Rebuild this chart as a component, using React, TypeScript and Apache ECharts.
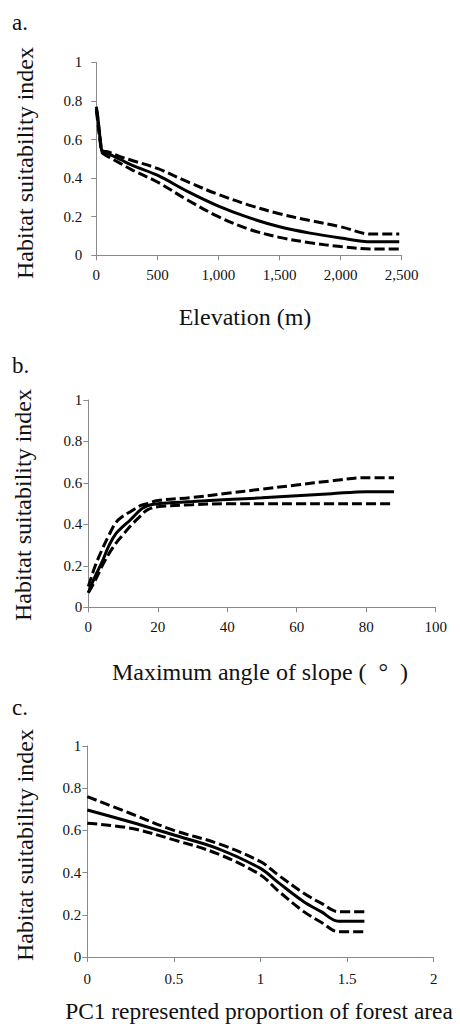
import React, { useEffect, useRef } from "react";
import * as echarts from "echarts";

// Panel a: Elevation (m)
const elevX = [0, 10, 25, 45, 60, 100, 200, 300, 500, 750, 1000, 1250, 1500, 1750, 2000, 2250, 2480];
const elevUpper = [0.76, 0.72, 0.64, 0.545, 0.54, 0.535, 0.51, 0.49, 0.45, 0.38, 0.315, 0.26, 0.215, 0.18, 0.148, 0.11, 0.11];
const elevMean = [0.77, 0.73, 0.64, 0.54, 0.535, 0.525, 0.495, 0.465, 0.415, 0.33, 0.255, 0.195, 0.148, 0.115, 0.09, 0.07, 0.07];
const elevLower = [0.75, 0.7, 0.62, 0.535, 0.525, 0.51, 0.475, 0.44, 0.38, 0.285, 0.2, 0.135, 0.093, 0.065, 0.045, 0.033, 0.033];

// Panel b: Maximum angle of slope
const slopeX = [0, 2, 4, 6, 8, 10, 12, 15, 17, 20, 30, 40, 50, 60, 70, 80, 88];
const slopeUpper = [0.1, 0.2, 0.28, 0.35, 0.41, 0.44, 0.46, 0.49, 0.5, 0.515, 0.53, 0.55, 0.57, 0.59, 0.61, 0.625, 0.625];
const slopeMean = [0.07, 0.15, 0.22, 0.3, 0.357, 0.39, 0.42, 0.47, 0.49, 0.5, 0.51, 0.52, 0.528, 0.538, 0.548, 0.558, 0.558];
const slopeLower = [0.07, 0.13, 0.2, 0.26, 0.31, 0.35, 0.39, 0.44, 0.47, 0.485, 0.495, 0.5, 0.5, 0.5, 0.5, 0.5, 0.5];

// Panel c: PC1 represented proportion of forest area
const pcX = [0, 0.25, 0.5, 0.75, 1, 1.1, 1.25, 1.35, 1.45, 1.6];
const pcUpper = [0.76, 0.68, 0.6, 0.539, 0.452, 0.39, 0.302, 0.255, 0.215, 0.215];
const pcMean = [0.697, 0.64, 0.578, 0.515, 0.42, 0.355, 0.262, 0.215, 0.17, 0.17];
const pcLower = [0.634, 0.61, 0.555, 0.49, 0.389, 0.315, 0.215, 0.165, 0.12, 0.12];

const FONT = "Liberation Serif";
const AXIS_COLOR = "#8a8a8a";
const TEXT_COLOR = "#111";

const zip = (xs: number[], ys: number[]) => xs.map((x, i) => [x, ys[i]]);

export default function App() {
  const ref = useRef<HTMLDivElement>(null);

  useEffect(() => {
    if (!ref.current) return;
    const chart = echarts.init(ref.current, null, { renderer: "svg" });

    const grids = [
      { left: 96.3, top: 62.3, width: 305.4, height: 193 },
      { left: 88.3, top: 400, width: 347.4, height: 207.3 },
      { left: 87.3, top: 746, width: 346.4, height: 211 },
    ];

    const xDefs = [
      { max: 2500, interval: 500, margin: 12, fmt: (v: number) => v.toLocaleString("en-US") },
      { max: 100, interval: 20, margin: 12, fmt: (v: number) => String(v) },
      { max: 2, interval: 0.5, margin: 14, fmt: (v: number) => String(v) },
    ];
    const yMargins = [14, 6, 6];

    const xAxis = xDefs.map((d, i) => ({
      type: "value",
      gridIndex: i,
      min: 0,
      max: d.max,
      interval: d.interval,
      splitLine: { show: false },
      axisLine: { show: true, lineStyle: { color: AXIS_COLOR, width: 1 } },
      axisTick: { show: true, inside: false, length: 5, lineStyle: { color: AXIS_COLOR } },
      axisLabel: { color: TEXT_COLOR, fontFamily: FONT, fontSize: 15, margin: d.margin, formatter: d.fmt },
    }));

    const yAxis = yMargins.map((m, i) => ({
      type: "value",
      gridIndex: i,
      min: 0,
      max: 1,
      interval: 0.2,
      splitLine: { show: false },
      axisLine: { show: true, lineStyle: { color: AXIS_COLOR, width: 1 } },
      axisTick: { show: true, inside: false, length: 5, lineStyle: { color: AXIS_COLOR } },
      axisLabel: { color: TEXT_COLOR, fontFamily: FONT, fontSize: 15, margin: m },
    }));

    const mk = (idx: number, xs: number[], ys: number[], dashed: boolean) => ({
      type: "line",
      xAxisIndex: idx,
      yAxisIndex: idx,
      data: zip(xs, ys),
      showSymbol: false,
      smooth: 0.35,
      lineStyle: {
        color: "#000",
        width: 3,
        type: dashed ? [10, 4] : "solid",
      },
      z: dashed ? 2 : 3,
    });

    const series = [
      mk(0, elevX, elevUpper, true),
      mk(0, elevX, elevLower, true),
      mk(0, elevX, elevMean, false),
      mk(1, slopeX, slopeUpper, true),
      mk(1, slopeX, slopeLower, true),
      mk(1, slopeX, slopeMean, false),
      mk(2, pcX, pcUpper, true),
      mk(2, pcX, pcLower, true),
      mk(2, pcX, pcMean, false),
    ];

    const txt = (text: string, x: number, y: number, size: number, rot = 0, align = "center") => ({
      type: "text",
      x,
      y,
      rotation: rot,
      style: {
        text,
        fill: TEXT_COLOR,
        fontFamily: FONT,
        fontSize: size,
        textAlign: align,
        textVerticalAlign: "middle",
      },
    });

    const graphic = [
      txt("a.", 12, 22, 23, 0, "left"),
      txt("b.", 12, 365, 23, 0, "left"),
      txt("c.", 12, 707, 23, 0, "left"),
      txt("Habitat suitability index", 25, 163, 24, Math.PI / 2),
      txt("Habitat suitability index", 23, 505, 24, Math.PI / 2),
      txt("Habitat suitability index", 25, 845, 24, Math.PI / 2),
      txt("Elevation (m)", 245, 317, 24),
      txt("Maximum angle of slope (\u00a0\u00a0°\u00a0\u00a0)", 260, 672, 24),
      txt("PC1 represented proportion of forest area", 259, 1011, 23.4),
    ];

    chart.setOption({
      animation: false,
      backgroundColor: "#fff",
      grid: grids,
      xAxis,
      yAxis,
      series,
      graphic,
    });

    return () => chart.dispose();
  }, []);

  return (
    <div
      ref={ref}
      style={{ position: "fixed", left: 0, top: 0, width: 460, height: 1026, background: "#fff" }}
    />
  );
}
